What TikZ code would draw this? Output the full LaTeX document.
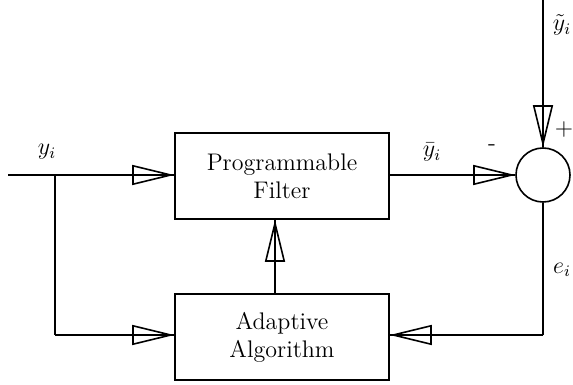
\documentclass[tikz,border=0pt]{standalone}
\usetikzlibrary{arrows.meta}
\tikzset{
  blk/.style={draw,thick,minimum width=107pt,minimum height=43pt,align=center,font=\large},
  feed/.style={thick,-{Triangle[open,length=21pt,width=10pt]},postaction={draw,-}},
  lbl/.style={font=\large}
}
\begin{document}
\begin{tikzpicture}[x=0.5pt,y=-0.5pt]
        \useasboundingbox (0,0) rectangle (573,385);
        \node[blk] (filt) at (282,176) {Programmable\\Filter};
        \node[blk] (algo) at (282,337) {Adaptive\\Algorithm};
        \node[draw,thick,circle,minimum size=27pt,inner sep=0pt] (sum) at (543,175) {};
        \coordinate (in) at (8,175);
        \coordinate (split) at (55,175);
        \coordinate (low) at (55,335);
        \coordinate (top) at (543,0);
        \coordinate (turn) at (543,335);
        \draw[thick] (in)--(split);
        \draw[feed] (split)--(filt.west|-split);
        \draw[thick] (split)--(low);
        \draw[feed] (low)--(algo.west|-low);
        \draw[feed] (filt.east|-sum)--(sum.west);
        \draw[feed] (top)--(sum.north);
        \draw[thick] (sum.south)--(turn);
        \draw[feed] (turn)--(algo.east|-turn);
        \draw[feed] ([xshift=-3.5pt]algo.north)--([xshift=-3.5pt]filt.south);
        \node[lbl] (yin) at (47,152) {$y_i$};
        \node[lbl] (yout) at (432,152) {$\bar{y}_i$};
        \node[lbl] (ytop) at (562,25) {$\tilde{y}_i$};
        \node[lbl] (err) at (562,270) {$e_i$};
        \node[lbl] (minus) at (492,148) {-};
        \node[lbl,inner sep=1pt] (plus) at (564,130) {+};
\end{tikzpicture}
\end{document}
